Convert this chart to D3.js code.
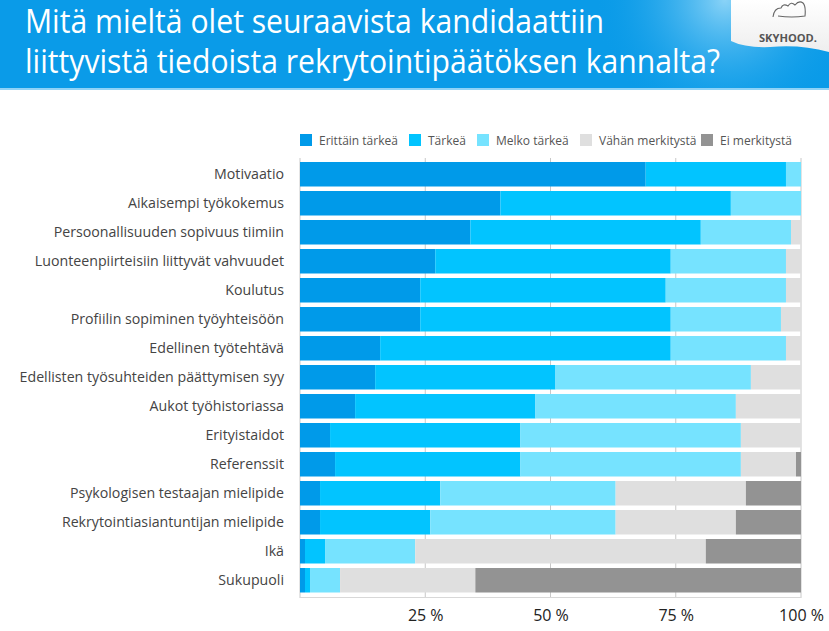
<!DOCTYPE html>
<html>
<head>
<meta charset="utf-8">
<script src="https://cdn.jsdelivr.net/npm/d3@7"></script>
<style>
html,body{margin:0;padding:0;background:#fff;}
svg{display:block;font-family:"Open Sans",sans-serif;}
</style>
</head>
<body>
<svg id="chart" width="829" height="631"></svg>
<script>
const titleLines = ["Mitä mieltä olet seuraavista kandidaattiin", "liittyvistä tiedoista rekrytointipäätöksen kannalta?"];
const categories = [
  "Motivaatio",
  "Aikaisempi työkokemus",
  "Persoonallisuuden sopivuus tiimiin",
  "Luonteenpiirteisiin liittyvät vahvuudet",
  "Koulutus",
  "Profiilin sopiminen työyhteisöön",
  "Edellinen työtehtävä",
  "Edellisten työsuhteiden päättymisen syy",
  "Aukot työhistoriassa",
  "Erityistaidot",
  "Referenssit",
  "Psykologisen testaajan mielipide",
  "Rekrytointiasiantuntijan mielipide",
  "Ikä",
  "Sukupuoli"
];
const seriesNames = ["Erittäin tärkeä", "Tärkeä", "Melko tärkeä", "Vähän merkitystä", "Ei merkitystä"];
const erittainTarkea = [69, 40, 34, 27, 24, 24, 16, 15, 11, 6, 7, 4, 4, 1, 1];
const tarkea         = [28, 46, 46, 47, 49, 50, 58, 36, 36, 38, 37, 24, 22, 4, 1];
const melkoTarkea    = [ 3, 14, 18, 23, 24, 22, 23, 39, 40, 44, 44, 35, 37, 18, 6];
const vahanMerkitysta= [ 0,  0,  2,  3,  3,  4,  3, 10, 13, 12, 11, 26, 24, 58, 27];
const eiMerkitysta   = [ 0,  0,  0,  0,  0,  0,  0,  0,  0,  0,  1, 11, 13, 19, 65];
const tickValues = [0, 25, 50, 75, 100];
const tickLabels = ["", "25 %", "50 %", "75 %", "100 %"];
const colors = ["#009ae9", "#02c4ff", "#76e3ff", "#dfdfdf", "#939393"];

const svg = d3.select("#chart");
const defs = svg.append("defs");

// Header
const hg = defs.append("radialGradient").attr("id","hdrGlow")
  .attr("gradientUnits","userSpaceOnUse").attr("cx",725).attr("cy",0).attr("r",130);
hg.append("stop").attr("offset","0%").attr("stop-color","#8ad3f7");
hg.append("stop").attr("offset","100%").attr("stop-color","#0a9be8").attr("stop-opacity",0);
svg.append("rect").attr("x",0).attr("y",0).attr("width",829).attr("height",88).attr("fill","#0a9be8");
svg.append("rect").attr("x",0).attr("y",0).attr("width",829).attr("height",88).attr("fill","url(#hdrGlow)");
svg.append("rect").attr("x",0).attr("y",88).attr("width",829).attr("height",2).attr("fill","#8fd3f7");

const titleG = svg.append("g");
titleLines.forEach((t,i)=>{
  const txt = titleG.append("text").attr("x",25).attr("y",33+i*40)
    .attr("fill","#fff").attr("font-size",32).text(t);
  const targetW = i===0 ? 579 : 695;
  txt.attr("textLength",targetW).attr("lengthAdjust","spacingAndGlyphs");
});

// Logo
const lg = defs.append("linearGradient").attr("id","logoG").attr("x1",0).attr("y1",0).attr("x2",0).attr("y2",1);
lg.append("stop").attr("offset","0%").attr("stop-color","#ffffff");
lg.append("stop").attr("offset","100%").attr("stop-color","#eeeeee");
svg.append("path")
  .attr("d","M731,0 L829,0 L829,52 Q800,44 770,47 Q745,48 731,41 Z")
  .attr("fill","url(#logoG)");
svg.append("path")
  .attr("d","M773,17 Q774,8 781,8 Q783,3 788,6 Q791,1 795,5 Q799,0 803,3 Q806,6 805,16 Q792,18 778,16")
  .attr("fill","none").attr("stroke","#666").attr("stroke-width",1.1);
svg.append("text").attr("x",788).attr("y",42).attr("text-anchor","middle")
  .attr("font-size",11).attr("font-weight","bold").attr("fill","#555")
  .attr("textLength",58).attr("lengthAdjust","spacingAndGlyphs").text("SKYHOOD.");

// Legend
const legendX = [300, 409, 477, 580, 701];
const legend = svg.append("g");
seriesNames.forEach((n,i)=>{
  legend.append("rect").attr("x",legendX[i]).attr("y",134).attr("width",12).attr("height",12).attr("fill",colors[i]);
  legend.append("text").attr("x",legendX[i]+19).attr("y",145).attr("font-size",12).attr("fill","#555").text(n);
});

// Scales
const x = d3.scaleLinear().domain([0,100]).range([300,801]);
const y = d3.scaleBand().domain(categories).range([159.75,594.75]).paddingInner(0.155).paddingOuter(0.0775);

// Grid
const grid = svg.append("g");
grid.selectAll("line.v").data(tickValues).join("line").attr("class","v")
  .attr("x1",d=>x(d)).attr("x2",d=>x(d)).attr("y1",158).attr("y2",598)
  .attr("stroke","#c8c8c8").attr("stroke-width",1);
grid.append("line").attr("x1",x(0)).attr("x2",x(100)).attr("y1",597.5).attr("y2",597.5)
  .attr("stroke","#d8d8d8").attr("stroke-width",1);

// Stack
const rows = categories.map((c,i)=>({cat:c, s0:erittainTarkea[i], s1:tarkea[i], s2:melkoTarkea[i], s3:vahanMerkitysta[i], s4:eiMerkitysta[i]}));
const stack = d3.stack().keys(["s0","s1","s2","s3","s4"])(rows);
const barsG = svg.append("g");
stack.forEach((layer,k)=>{
  barsG.append("g").attr("fill",colors[k]).selectAll("rect").data(layer).join("rect")
    .attr("x",d=>x(d[0])).attr("width",d=>Math.max(0,x(d[1])-x(d[0])))
    .attr("y",d=>y(d.data.cat)).attr("height",y.bandwidth());
});

// Category labels
svg.append("g").selectAll("text").data(categories).join("text")
  .attr("x",284).attr("y",d=>y(d)+y.bandwidth()/2).attr("dy","0.35em")
  .attr("text-anchor","end").attr("font-size",14.2).attr("fill","#444").text(d=>d);

// X axis labels
const xAxis = d3.axisBottom(x).tickValues(tickValues).tickFormat((d,i)=>tickLabels[i]).tickSize(0).tickPadding(0);
const ax = svg.append("g").attr("transform","translate(0,610)").call(xAxis);
ax.select(".domain").remove();
ax.selectAll("text").attr("font-size",16).attr("fill","#222").attr("font-family","'Open Sans',sans-serif");
</script>
</body>
</html>
